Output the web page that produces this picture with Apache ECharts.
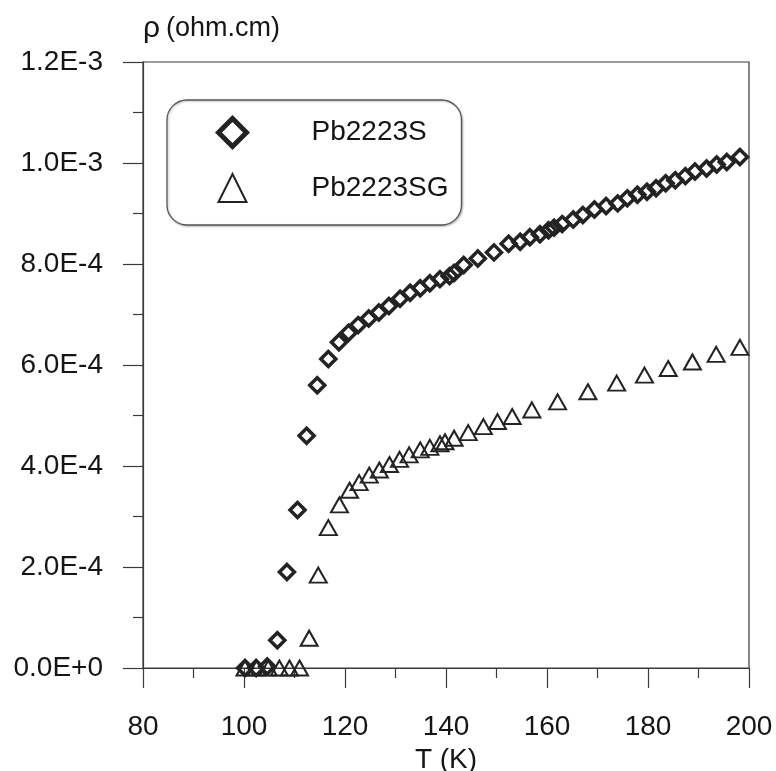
<!DOCTYPE html>
<html>
<head>
<meta charset="utf-8">
<script src="https://cdn.jsdelivr.net/npm/echarts@6/dist/echarts.min.js"></script>
<style>
html,body{margin:0;padding:0;background:#fff;}
#chart{width:776px;height:771px;}
</style>
</head>
<body>
<div id="chart"></div>
<script>
// Pb2223S (diamonds)
var tempS = [100.2, 102.4, 104.6, 106.6, 108.5, 110.6, 112.4, 114.5, 116.7, 118.8,
  120.7, 122.6, 124.7, 126.7, 128.7, 130.9, 132.9, 134.9, 136.8, 138.8,
  140.7, 141.6, 143.5, 146.3, 149.5, 152.4, 154.7, 156.6, 158.6, 160.3,
  161.4, 163.0, 165.2, 167.1, 169.4, 171.7, 174.0, 175.9, 177.9, 179.8,
  181.6, 183.5, 185.4, 187.4, 189.3, 191.6, 193.6, 195.6, 198.2];
var rhoS = [0, 0, 3e-6, 5.5e-5, 1.90e-4, 3.13e-4, 4.60e-4, 5.60e-4, 6.12e-4, 6.45e-4,
  6.64e-4, 6.79e-4, 6.92e-4, 7.04e-4, 7.17e-4, 7.31e-4, 7.43e-4, 7.52e-4, 7.62e-4, 7.70e-4,
  7.76e-4, 7.82e-4, 7.98e-4, 8.11e-4, 8.23e-4, 8.40e-4, 8.44e-4, 8.53e-4, 8.59e-4, 8.67e-4,
  8.72e-4, 8.79e-4, 8.88e-4, 8.97e-4, 9.08e-4, 9.15e-4, 9.20e-4, 9.30e-4, 9.37e-4, 9.43e-4,
  9.50e-4, 9.60e-4, 9.66e-4, 9.74e-4, 9.83e-4, 9.89e-4, 9.97e-4, 10.02e-4, 10.12e-4];

// Pb2223SG (triangles)
var tempSG = [100.2, 102.5, 104.8, 107.0, 109.0, 111.0, 112.9, 114.7, 116.7, 118.9,
  120.9, 122.8, 124.8, 126.8, 128.8, 130.8, 132.7, 134.9, 136.8, 138.8,
  139.8, 141.6, 144.4, 147.4, 150.2, 153.1, 157.0, 162.1, 168.1, 173.8,
  179.3, 184.0, 188.8, 193.5, 198.2];
var rhoSG = [0, 0, 0, 0, 0, 0, 5.9e-5, 1.84e-4, 2.78e-4, 3.23e-4,
  3.52e-4, 3.67e-4, 3.82e-4, 3.92e-4, 4.03e-4, 4.13e-4, 4.22e-4, 4.32e-4, 4.37e-4, 4.44e-4,
  4.48e-4, 4.55e-4, 4.66e-4, 4.78e-4, 4.88e-4, 4.98e-4, 5.11e-4, 5.27e-4, 5.47e-4, 5.64e-4,
  5.80e-4, 5.93e-4, 6.06e-4, 6.21e-4, 6.35e-4];

var seriesNames = ['Pb2223S', 'Pb2223SG'];
var yTickLabels = ['0.0E+0', '2.0E-4', '4.0E-4', '6.0E-4', '8.0E-4', '1.0E-3', '1.2E-3'];
var xTickLabels = ['80', '100', '120', '140', '160', '180', '200'];
var xTitle = 'T (K)';
var yTitleSymbol = 'ρ';
var yTitleUnit = '(ohm.cm)';

function zip(a, b) { return a.map(function (v, i) { return [v, b[i]]; }); }

var FONT = '"Liberation Sans", Arial, sans-serif';
var INK = '#151515';
var AXIS = '#3a3a3a';
var MARK = '#232323';

var chart = echarts.init(document.getElementById('chart'), null, {renderer: 'canvas'});
chart.setOption({
  animation: false,
  backgroundColor: '#ffffff',
  grid: {left: 143, right: 27, top: 62, bottom: 103, containLabel: false, outerBoundsMode: 'none',
    show: true, borderColor: AXIS, borderWidth: 1.2, backgroundColor: 'transparent'},
  xAxis: {
    type: 'value', min: 80, max: 200, interval: 20,
    name: xTitle, nameLocation: 'middle', nameGap: 78,
    nameTextStyle: {fontFamily: FONT, fontSize: 28, color: INK},
    axisLine: {show: true, onZero: false, lineStyle: {color: AXIS, width: 1.2}},
    axisTick: {show: true, inside: false, length: 20, lineStyle: {color: AXIS, width: 1.2}},
    minorTick: {show: true, splitNumber: 2, length: 10, lineStyle: {color: AXIS, width: 1.2}},
    splitLine: {show: false},
    axisLabel: {margin: 45, fontFamily: FONT, fontSize: 28, color: INK,
      formatter: function (v) { var i = Math.round((v - 80) / 20); return xTickLabels[i] || ''; }}
  },
  yAxis: {
    type: 'value', min: 0, max: 0.0012, interval: 0.0002,
    name: '{r|' + yTitleSymbol + '}{u|' + yTitleUnit + '}', nameLocation: 'end', nameGap: 18,
    nameTextStyle: {align: 'left', verticalAlign: 'bottom',
      rich: {
        r: {fontFamily: FONT, fontSize: 30, color: INK, padding: [0, 6, 0, 0]},
        u: {fontFamily: FONT, fontSize: 27, color: INK}
      }},
    axisLine: {show: true, onZero: false, lineStyle: {color: AXIS, width: 1.2}},
    axisTick: {show: true, inside: false, length: 20, lineStyle: {color: AXIS, width: 1.2}},
    minorTick: {show: true, splitNumber: 2, length: 10, lineStyle: {color: AXIS, width: 1.2}},
    splitLine: {show: false},
    axisLabel: {margin: 40, fontFamily: FONT, fontSize: 28, color: INK,
      formatter: function (v) { var i = Math.round(v / 0.0002); return yTickLabels[i] || ''; }}
  },
  legend: {
    orient: 'vertical', left: 167, top: 100,
    padding: [16, 13, 22, 49],
    itemGap: 24, itemWidth: 28, itemHeight: 28,
    borderColor: '#555', borderWidth: 1.3, borderRadius: 20,
    shadowColor: 'rgba(0,0,0,0.25)', shadowBlur: 2, shadowOffsetX: 1, shadowOffsetY: 1,
    backgroundColor: '#fff',
    textStyle: {fontFamily: FONT, fontSize: 28, color: INK, padding: [0, 0, 0, 60]},
    data: [
      {name: seriesNames[0], icon: 'diamond', itemStyle: {color: '#fff', borderColor: MARK, borderWidth: 5}},
      {name: seriesNames[1], icon: 'triangle', itemStyle: {color: '#fff', borderColor: MARK, borderWidth: 2}}
    ]
  },
  series: [
    {
      name: seriesNames[0], type: 'scatter', symbol: 'diamond', symbolSize: 15,
      itemStyle: {color: 'rgba(255,255,255,0)', borderColor: MARK, borderWidth: 3.5, opacity: 1},
      data: zip(tempS, rhoS), z: 3
    },
    {
      name: seriesNames[1], type: 'scatter', symbol: 'triangle', symbolSize: [17, 15],
      itemStyle: {color: 'rgba(255,255,255,0)', borderColor: MARK, borderWidth: 2, opacity: 1},
      data: zip(tempSG, rhoSG), z: 2
    }
  ]
});
</script>
</body>
</html>
